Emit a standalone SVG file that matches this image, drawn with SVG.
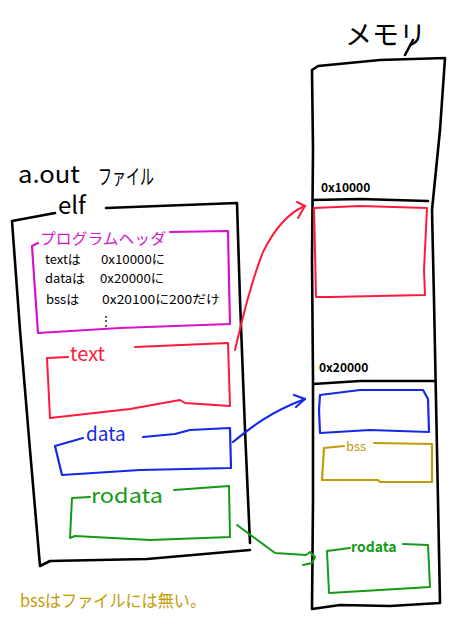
<svg xmlns="http://www.w3.org/2000/svg" width="462" height="640" viewBox="0 0 462 640">
<style>
.hand{font-family:"Noto Sans CJK JP","Noto Sans",sans-serif;}
.k{fill:none;stroke:#000;stroke-width:2.6;stroke-linecap:round;stroke-linejoin:round}
.r{fill:none;stroke:#ff1a3c;stroke-width:2;stroke-linecap:round;stroke-linejoin:round}
.b{fill:none;stroke:#1428e6;stroke-width:2.2;stroke-linecap:round;stroke-linejoin:round}
.g{fill:none;stroke:#159a18;stroke-width:2;stroke-linecap:round;stroke-linejoin:round}
.m{fill:none;stroke:#d414cc;stroke-width:2.2;stroke-linecap:round;stroke-linejoin:round}
.y{fill:none;stroke:#c29c08;stroke-width:2.2;stroke-linecap:round;stroke-linejoin:round}
.tk{fill:#000}
.tr{fill:#ff1a3c}
.tb{fill:#1428e6}
.tg{fill:#159a18}
.tm{fill:#d414cc}
.ty{fill:#c29c08}
</style>
<rect width="462" height="640" fill="#fff"/>

<text class="hand tk" x="18" y="183" font-size="24" textLength="62" lengthAdjust="spacingAndGlyphs">a.out</text>
<text class="hand tk" x="98" y="184" font-size="21" textLength="56" lengthAdjust="spacingAndGlyphs">ファイル</text>

<g id="elf">
  <path class="k" d="M55,213 L12,221 L20,330 L30,450 L40,566 L50,561 L147,559 L250,550"/>
  <path class="k" d="M106,208 L237,203 L240,300 L245,430 L250,543"/>
  <text class="hand tk" x="58" y="214" font-size="24">elf</text>
</g>

<g id="program-header">
  <path class="m" d="M38,243 L32,246 L35,290 L38,333 L120,328 L230,324 L229,280 L228,231 L170,232"/>
  <text class="hand tm" x="40" y="244" font-size="15" textLength="126" lengthAdjust="spacingAndGlyphs">プログラムヘッダ</text>
  <text class="hand tk" x="45" y="264" font-size="13">textは</text>
  <text class="hand tk" x="101" y="264" font-size="12" textLength="64" lengthAdjust="spacingAndGlyphs">0x10000に</text>
  <text class="hand tk" x="45" y="283" font-size="13">dataは</text>
  <text class="hand tk" x="100" y="283" font-size="12" textLength="64" lengthAdjust="spacingAndGlyphs">0x20000に</text>
  <text class="hand tk" x="46" y="304" font-size="13">bssは</text>
  <text class="hand tk" x="102" y="304" font-size="12" textLength="118" lengthAdjust="spacingAndGlyphs">0x20100に200だけ</text>
  <text class="hand tk" x="100" y="325" font-size="12">⋮</text>
</g>

<g id="text-section">
  <path class="r" d="M68,357 L47,358 L50,418 L130,409 L180,400 L185,403 L230,406 L229,375 L228,343 L135,347"/>
  <text class="hand tr" x="70" y="361" font-size="20">text</text>
</g>

<g id="data-section">
  <path class="b" d="M83,438 L55,446 L62,475 L140,470 L231,468 L230,428 L190,430 L175,434 L143,437"/>
  <text class="hand tb" x="86" y="441" font-size="19">data</text>
</g>

<g id="rodata-section">
  <path class="g" d="M90,497 L72,498 L70,538 L75,536 L150,540 L230,537 L229,486 L174,490"/>
  <text class="hand tg" x="91" y="503" font-size="20" textLength="72" lengthAdjust="spacingAndGlyphs">rodata</text>
</g>

<text class="hand tk" x="345" y="45" font-size="27">メモリ</text>

<g id="memory">
  <path class="k" d="M413,40 L405,55"/>
  <path class="k" d="M312,70 L318,66 L380,60 L445,58 L440,130 L432,210 L434,300 L436,400 L438,500 L440,603 L390,606 L340,605 L312,609 L313,500 L313,380 L312,260 L313,150 L312,70"/>
  <path class="k" d="M313,200 L360,199 L428,201"/>
  <text class="hand tk" x="321" y="192" font-size="12" font-weight="bold">0x10000</text>
  <path class="k" d="M313,384 L360,381 L434,381"/>
  <text class="hand tk" x="319" y="372" font-size="12" font-weight="bold">0x20000</text>
</g>

<g id="mem-text">
  <path class="r" d="M314,208 L360,206 L427,208 L424,270 L425,295 L330,297 L316,297 L315,250 Z"/>
</g>

<g id="mem-data">
  <path class="b" d="M320,395 L360,390 L423,390 L428,399 L429,432 L370,430 L320,433 L319,410 Z"/>
</g>

<g id="mem-bss">
  <path class="y" d="M344,446 L324,448 L322,480 L378,480 L380,482 L432,482 L432,444 L374,443"/>
  <text class="hand ty" x="346" y="451" font-size="13">bss</text>
</g>

<g id="mem-rodata">
  <path class="g" d="M350,548 L327,551 L329,593 L380,590 L430,587 L428,545 L403,544"/>
  <text class="hand tg" x="351" y="552" font-size="14" font-weight="bold">rodata</text>
</g>

<g id="connectors">
  <path class="r" d="M235,350 C240,330 248,290 263,252 C275,228 290,212 305,206"/>
  <path class="r" d="M297,202 L305,206 L298,218"/>
  <path class="b" d="M233,442 C250,428 270,412 305,399"/>
  <path class="b" d="M294,395 L305,399 L296,407"/>
  <path class="g" d="M237,525 L275,553 L306,555 L310,552 L315,557 L312,563 L303,565"/>
</g>

<text class="hand ty" x="20" y="607" font-size="17" textLength="186" lengthAdjust="spacingAndGlyphs">bssはファイルには無い。</text>
</svg>
